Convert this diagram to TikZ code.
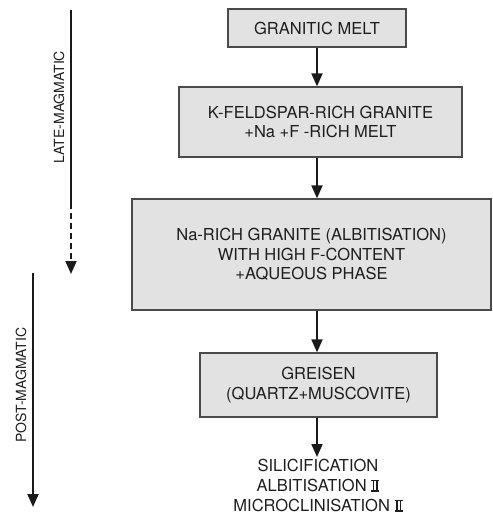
\documentclass[tikz,border=0pt]{standalone}
\usepackage{fontspec}
\setmainfont{TeX Gyre Heros}
\usetikzlibrary{arrows.meta}
\definecolor{txt}{HTML}{1E1E1E}
\definecolor{boxfill}{HTML}{E2E2E2}
\definecolor{boxline}{HTML}{4A4A4A}
\definecolor{arr}{HTML}{1A1A1A}
\tikzset{
  stagebox/.style={draw=boxline, line width=1.2pt, fill=boxfill, text=txt,
    align=center, inner sep=0pt, font=\fontsize{16.5}{19.5}\selectfont},
  flowarrow/.style={draw=arr, line width=1.8pt, -{Triangle[length=13pt,width=11pt]}},
  sidelabel/.style={text=txt, rotate=90, font=\fontsize{14}{16}\selectfont, inner sep=0pt},
  plaintext/.style={text=txt, align=center, inner sep=0pt, font=\fontsize{16.5}{20}\selectfont}
}
\newcommand{\romtwo}{\mbox{\rule[-0.3pt]{8pt}{1.6pt}\kern-8pt\rule[10.2pt]{8pt}{1.6pt}\kern-6.5pt\rule{1.5pt}{11.8pt}\kern2pt\rule{1.5pt}{11.8pt}\kern1.5pt}}
\begin{document}
\begin{tikzpicture}[x=1pt,y=1pt]
\useasboundingbox (0,0) rectangle (493,-515);
% boxes
\node[stagebox, minimum width=178pt, minimum height=38pt] (b1) at (317,-28) {GRANITIC MELT};
\node[stagebox, minimum width=283pt, minimum height=70pt] (b2) at (320.5,-122) {K-FELDSPAR-RICH GRANITE\\+Na +F -RICH MELT};
\node[stagebox, minimum width=359pt, minimum height=111pt] (b3) at (311.5,-254.5) {Na-RICH GRANITE (ALBITISATION)\\WITH HIGH F-CONTENT\\+AQUEOUS PHASE};
\node[stagebox, minimum width=237pt, minimum height=64pt] (b4) at (318.5,-385) {GREISEN\\(QUARTZ+MUSCOVITE)};
\node[plaintext] (b5) at (318,-485.5) {SILICIFICATION\\ALBITISATION \romtwo\\MICROCLINISATION \romtwo};
% flow arrows
\draw[flowarrow] (b1.south) -- (b1.south |- b2.north);
\draw[flowarrow] (b2.south -| b1.south) -- (b3.north -| b1.south);
\draw[flowarrow] (b3.south -| b1.south) -- (b4.north -| b1.south);
\coordinate (endtip) at (317,-457);
\draw[flowarrow] (b4.south -| b1.south) -- (endtip);
% side arrows
\coordinate (la1) at (71,-10);
\coordinate (la2) at (71,-203);
\coordinate (la3) at (71,-274);
\coordinate (pa1) at (33,-273);
\coordinate (pa2) at (33,-507);
\draw[draw=arr, line width=1.8pt] (la1) -- (la2);
\draw[flowarrow, dash pattern=on 6pt off 4pt] (la2) -- (la3);
\draw[flowarrow] (pa1) -- (pa2);
\node[sidelabel] (late) at (59,-107) {LATE-MAGMATIC};
\node[sidelabel] (post) at (21,-385) {POST-MAGMATIC};
\end{tikzpicture}
\end{document}
